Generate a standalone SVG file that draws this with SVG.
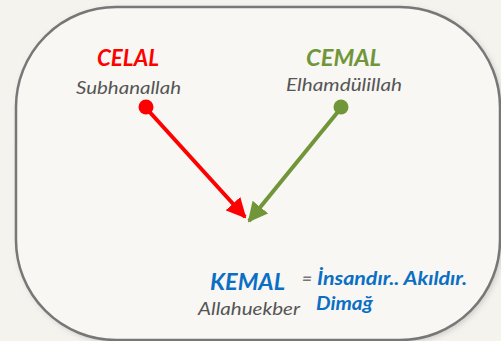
<svg xmlns="http://www.w3.org/2000/svg" width="501" height="341" viewBox="0 0 501 341">
<defs>
<filter id="sh" x="-10%" y="-10%" width="120%" height="120%"><feGaussianBlur stdDeviation="3"/></filter>
<marker id="ar" viewBox="0 0 10 10" refX="9" refY="5" markerWidth="5" markerHeight="5" orient="auto" markerUnits="strokeWidth"><path d="M0,0 L10,5 L0,10 z" fill="#ff0000"/></marker>
<marker id="ag" viewBox="0 0 10 10" refX="9" refY="5" markerWidth="5" markerHeight="5" orient="auto" markerUnits="strokeWidth"><path d="M0,0 L10,5 L0,10 z" fill="#71963a"/></marker>
</defs>
<style>
text{font-family:Lato,"Liberation Sans",sans-serif;font-style:italic}
.t{font-weight:bold;font-size:23px}
.s{font-size:18px;fill:#555}
.b{font-weight:bold;font-size:19px;fill:#0b6fc4}
</style>
<rect width="501" height="341" fill="#f5f3ee"/>
<rect x="18" y="9" width="484" height="333" rx="100" fill="#999" opacity="0.5" filter="url(#sh)"/>
<rect id="frame" x="16" y="7" width="484" height="333" rx="100" fill="#f8f7f3" stroke="#777" stroke-width="2.5"/>
<g id="connectors">
<line x1="146" y1="108" x2="245" y2="217" stroke="#ff0000" stroke-width="4" marker-end="url(#ar)"/>
<line x1="341" y1="108" x2="249" y2="221" stroke="#71963a" stroke-width="4" marker-end="url(#ag)"/>
</g>
<g id="celal">
<circle cx="146" cy="107" r="7.5" fill="#ff0000"/>
<text class="t" x="97" y="66" textLength="62" lengthAdjust="spacingAndGlyphs" fill="#ff0000">CELAL</text>
<text class="s" x="76" y="94" textLength="105" lengthAdjust="spacingAndGlyphs">Subhanallah</text>
</g>
<g id="cemal">
<circle cx="341" cy="107" r="7.5" fill="#71963a"/>
<text class="t" x="306" y="66" textLength="75" lengthAdjust="spacingAndGlyphs" fill="#71963a">CEMAL</text>
<text class="s" x="286" y="91" textLength="116" lengthAdjust="spacingAndGlyphs">Elhamdülillah</text>
</g>
<g id="kemal">
<text class="t" x="210" y="290" textLength="75" lengthAdjust="spacingAndGlyphs" fill="#0b6fc4">KEMAL</text>
<text class="s" x="198" y="315" textLength="102" lengthAdjust="spacingAndGlyphs">Allahuekber</text>
<text x="302" y="285" font-size="17" font-weight="bold" fill="#777" textLength="10" lengthAdjust="spacingAndGlyphs">=</text>
<text class="b" x="317" y="285" textLength="150" lengthAdjust="spacingAndGlyphs">İnsandır.. Akıldır.</text>
<text class="b" x="316" y="310" textLength="57" lengthAdjust="spacingAndGlyphs">Dimağ</text>
</g>
</svg>
